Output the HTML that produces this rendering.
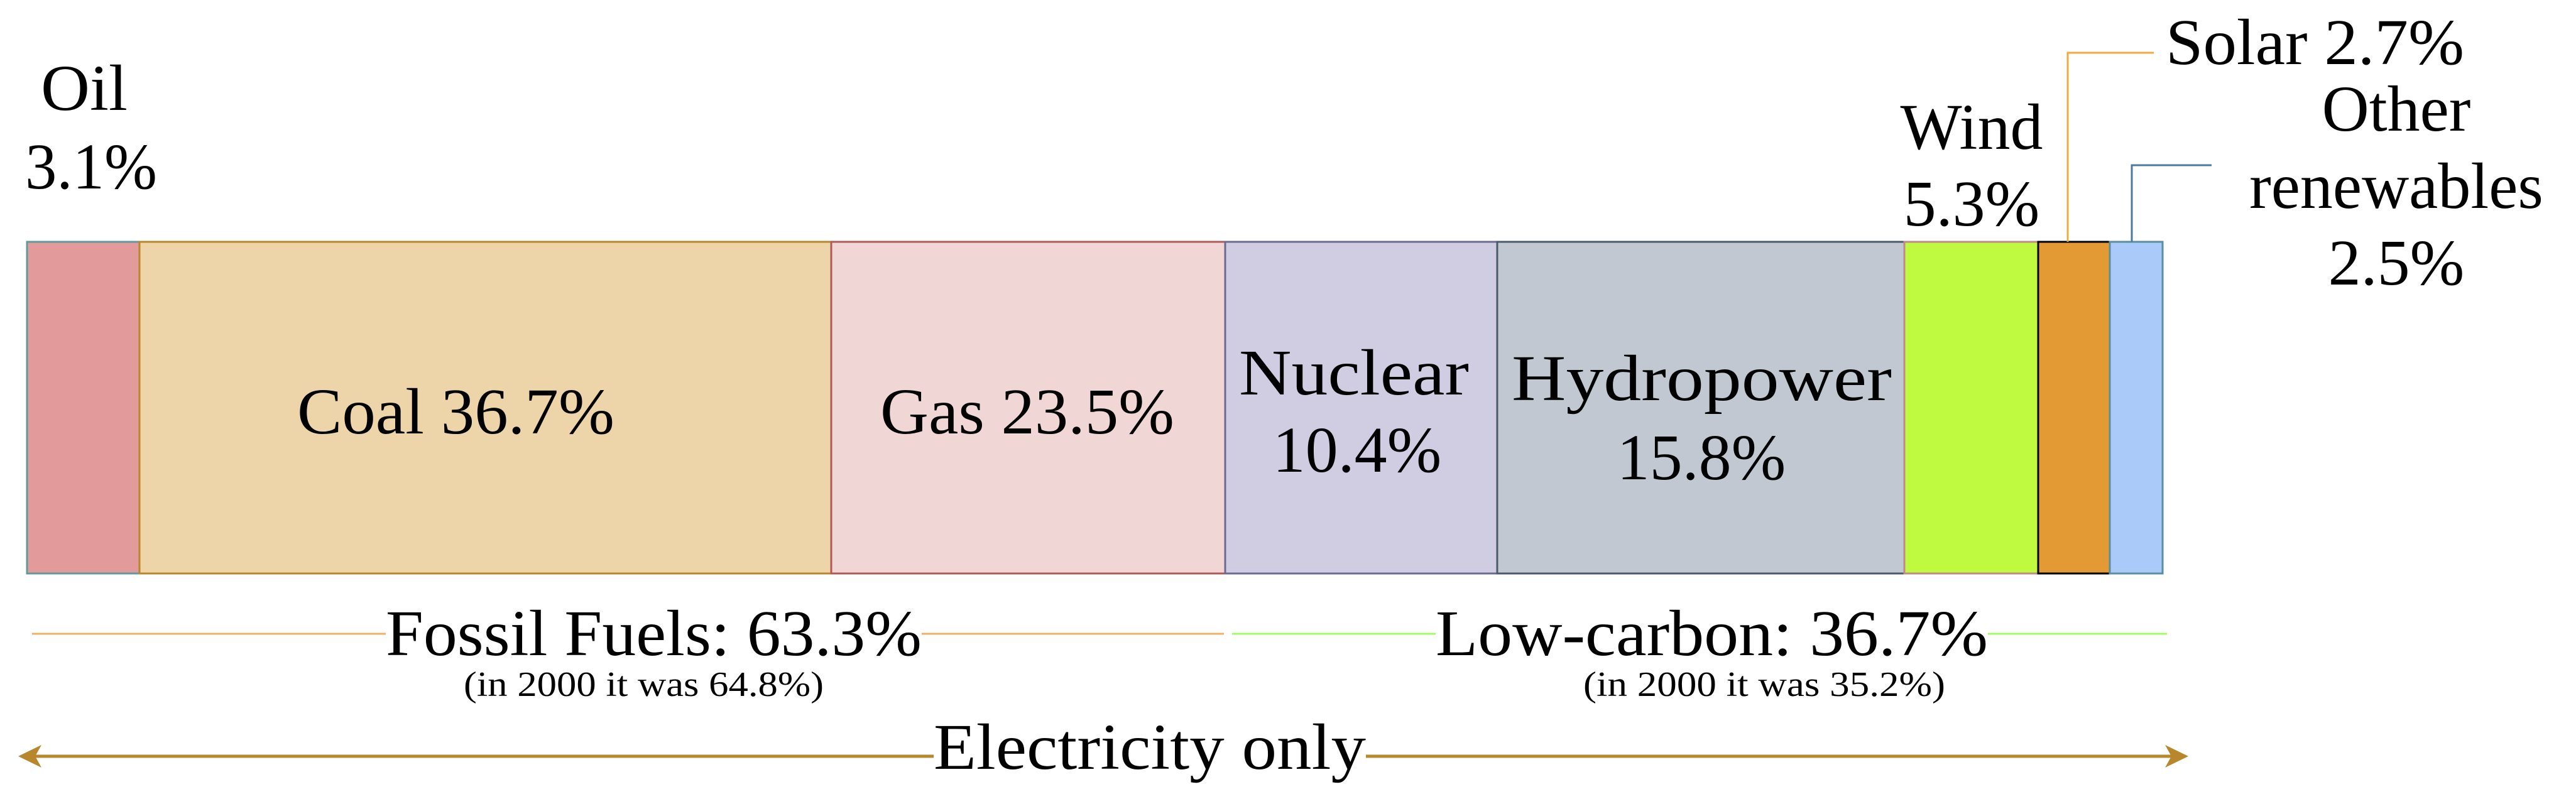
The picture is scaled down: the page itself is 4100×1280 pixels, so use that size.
<!DOCTYPE html>
<html><head><meta charset="utf-8"><style>html,body{margin:0;padding:0;background:#fff;}svg{display:block}</style></head>
<body>
<svg width="4100" height="1280" viewBox="0 0 4100 1280" xmlns="http://www.w3.org/2000/svg" font-family="'Liberation Serif', serif" fill="#000">
<!-- bars -->
<rect x="43" y="385" width="179" height="528" fill="#e39a9a" stroke="#5f9aa0" stroke-width="3"/>
<rect x="222" y="385" width="1101" height="528" fill="#edd5a9" stroke="#b8862b" stroke-width="3"/>
<rect x="1323" y="385" width="627" height="528" fill="#f0d6d4" stroke="#b05a55" stroke-width="3"/>
<rect x="1950" y="385" width="433" height="528" fill="#d0cde3" stroke="#6a6a92" stroke-width="3"/>
<rect x="2383" y="385" width="648" height="528" fill="#c1c8d2" stroke="#4a5a6a" stroke-width="3"/>
<rect x="3031" y="385" width="213" height="528" fill="#c0fa40" stroke="#c08888" stroke-width="3"/>
<rect x="3244" y="385" width="114" height="528" fill="#e39a35" stroke="#000" stroke-width="3"/>
<rect x="3358" y="385" width="84" height="528" fill="#aacbfa" stroke="#5a8ea0" stroke-width="3"/>
<!-- leaders -->
<polyline points="3291,385 3291,84 3428,84" fill="none" stroke="#f0a840" stroke-width="3"/>
<polyline points="3393,385 3393,263 3520,263" fill="none" stroke="#4a7aa0" stroke-width="3"/>
<!-- top labels -->
<g font-size="104">
<text x="65" y="175" textLength="138" lengthAdjust="spacingAndGlyphs">Oil</text>
<text x="40" y="300" textLength="210" lengthAdjust="spacingAndGlyphs">3.1%</text>
<text x="3138" y="237" text-anchor="middle">Wind</text>
<text x="3138" y="359" text-anchor="middle">5.3%</text>
<text x="3447" y="102" textLength="475" lengthAdjust="spacingAndGlyphs">Solar 2.7%</text>
<text x="3814" y="208" text-anchor="middle">Other</text>
<text x="3814" y="331" text-anchor="middle">renewables</text>
<text x="3814" y="453" text-anchor="middle">2.5%</text>
<!-- inside -->
<text x="473" y="690" textLength="505" lengthAdjust="spacingAndGlyphs">Coal 36.7%</text>
<text x="1401" y="690" textLength="468" lengthAdjust="spacingAndGlyphs">Gas 23.5%</text>
<text x="1972" y="628" textLength="366" lengthAdjust="spacingAndGlyphs">Nuclear</text>
<text x="2160" y="751" text-anchor="middle">10.4%</text>
<text x="2406" y="637" textLength="605" lengthAdjust="spacingAndGlyphs">Hydropower</text>
<text x="2708" y="763" text-anchor="middle">15.8%</text>
</g>
<!-- group lines -->
<line x1="51" y1="1009" x2="614" y2="1009" stroke="#f0b060" stroke-width="3"/>
<line x1="1467" y1="1009" x2="1948" y2="1009" stroke="#f0b060" stroke-width="3"/>
<line x1="1961" y1="1009" x2="2285" y2="1009" stroke="#a0ff60" stroke-width="3"/>
<line x1="3164" y1="1009" x2="3449" y2="1009" stroke="#a0ff60" stroke-width="3"/>
<text x="614" y="1043" font-size="104" textLength="853" lengthAdjust="spacingAndGlyphs">Fossil Fuels: 63.3%</text>
<text x="2285" y="1043" font-size="104" textLength="879" lengthAdjust="spacingAndGlyphs">Low-carbon: 36.7%</text>
<text x="738" y="1108" font-size="56" textLength="573" lengthAdjust="spacingAndGlyphs">(in 2000 it was 64.8%)</text>
<text x="2520" y="1108" font-size="56" textLength="576" lengthAdjust="spacingAndGlyphs">(in 2000 it was 35.2%)</text>
<!-- arrow -->
<line x1="40" y1="1204" x2="1486" y2="1204" stroke="#b8862b" stroke-width="5"/>
<line x1="2174" y1="1204" x2="3470" y2="1204" stroke="#b8862b" stroke-width="5"/>
<polygon points="29,1204 66,1186 56,1204 66,1222" fill="#b8862b"/>
<polygon points="3483,1204 3446,1186 3456,1204 3446,1222" fill="#b8862b"/>
<text x="1486" y="1224" font-size="104" textLength="688" lengthAdjust="spacingAndGlyphs">Electricity only</text>
</svg>
</body></html>
